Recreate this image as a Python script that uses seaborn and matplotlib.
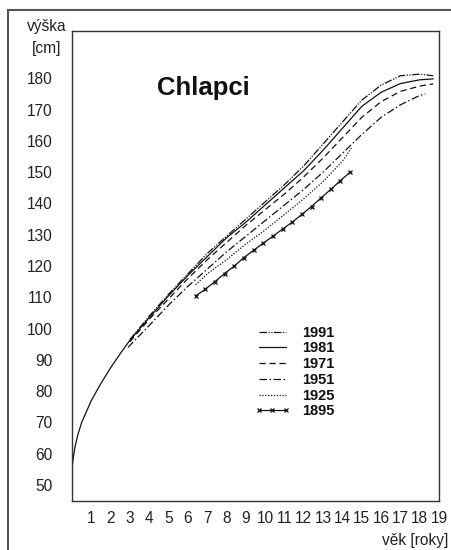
import matplotlib
matplotlib.use("Agg")
import matplotlib.pyplot as plt
import seaborn as sns
import pandas as pd
from matplotlib.patches import Rectangle

sns.set_style("white")
plt.rcParams['font.family'] = ['Liberation Sans', 'DejaVu Sans']

# ---- data (age in years, height in cm) ----
age_1991 = [3, 4, 5, 6, 7, 8, 9, 10, 11, 12, 13, 14, 15, 16, 17, 18, 18.7]
h_1991 = [96.5, 104, 111, 117.5, 124, 129.5, 135, 140.5, 146, 152, 159, 166, 173, 177.8, 180.8, 181.3, 180.8]

age_1981 = [0, 0.05, 0.15, 0.3, 0.5, 0.75, 1, 1.5, 2, 2.5, 3, 4, 5, 6, 7, 8, 9, 10, 11, 12, 13, 14, 15, 16, 17, 18, 18.7]
h_1981 = [55, 58, 62, 66, 70, 73.5, 77, 82.5, 87.5, 92, 96.3, 103.5, 110.5, 117, 123, 129, 134, 139.5, 145, 150.5, 157, 164, 171, 175.5, 178.3, 179.5, 179.8]

age_1971 = [3, 4, 5, 6, 7, 8, 9, 10, 11, 12, 13, 14, 15, 16, 17, 18, 18.7]
h_1971 = [95.8, 103, 109.5, 116, 122, 127.5, 133, 138, 143, 148.5, 154.5, 161, 167.5, 172.5, 175.8, 177.5, 178.2]

age_1951 = [2.9, 4, 5, 6, 7, 8, 9, 10, 11, 12, 13, 14, 15, 16, 17, 18, 18.3]
h_1951 = [94, 101, 107.5, 113.5, 119, 124.5, 129.5, 134.5, 139.5, 144.5, 150, 156, 162, 167.5, 171.5, 174.5, 175]

age_1925 = [6.4, 7, 8, 9, 10, 11, 12, 13, 14, 14.5]
h_1925 = [114, 117.5, 122, 127, 131.5, 136.5, 141.5, 147, 153.5, 158]

age_1895 = [6.4, 6.9, 7.4, 7.9, 8.4, 8.9, 9.4, 9.9, 10.4, 10.9, 11.4, 11.9, 12.4, 12.9, 13.4, 13.9, 14.4]
h_1895 = [110.4, 112.6, 115, 117.6, 120, 122.7, 125, 127.3, 129.5, 131.8, 134, 136.5, 139, 141.8, 144.5, 147.3, 150]

years = ["1991", "1981", "1971", "1951", "1925", "1895"]
x_ticks = list(range(1, 20))
y_ticks = list(range(50, 190, 10))

series = {
    "1991": (age_1991, h_1991, (0, (6, 1.2, 1, 1.2, 1, 1.2)), "None"),
    "1981": (age_1981, h_1981, "-", "None"),
    "1971": (age_1971, h_1971, (0, (5, 3)), "None"),
    "1951": (age_1951, h_1951, (0, (6, 2, 1.2, 2)), "None"),
    "1925": (age_1925, h_1925, (0, (1, 1.3)), "None"),
    "1895": (age_1895, h_1895, "-", "x"),
}

fig = plt.figure(figsize=(4.52, 5.5), dpi=100)
ax = fig.add_axes([72 / 452, 1 - 501 / 550, 367 / 452, 470 / 550])

handles = {}
for yr in years:
    a, h, ls, mk = series[yr]
    df = pd.DataFrame({"age": a, "height": h})
    sns.lineplot(data=df, x="age", y="height", ax=ax, color="#111111", linewidth=0.9,
                 sort=False, estimator=None)
    ln = ax.get_lines()[-1]
    ln.set_linestyle(ls)
    ln.set_marker(mk)
    ln.set_markersize(3.5)
    ln.set_markeredgewidth(0.9)
    ln.set_markeredgecolor("#111111")
    handles[yr] = ln

ax.set_xlim(0, 19)
ax.set_ylim(44.9, 195.1)
ax.set_xticks(x_ticks)
ax.set_yticks(y_ticks)
ax.set_xticklabels([str(t) for t in x_ticks], fontsize=11.2, color="#222222")
ax.set_yticklabels([str(t) for t in y_ticks], fontsize=11.2, color="#222222")
ax.tick_params(axis="both", direction="in", length=3, width=0.8, color="#333333")
ax.tick_params(axis="y", pad=14)
ax.tick_params(axis="x", pad=7)
ax.set_xlabel("")
ax.set_ylabel("")
for s in ax.spines.values():
    s.set_color("#333333")
    s.set_linewidth(1.0)

ax.text((203 - 72) / 367, (501 - 88) / 470, "Chlapci", transform=ax.transAxes, fontsize=18.5,
        fontweight="bold", ha="center", va="center", color="#111111")

fig.text(47 / 452, 1 - 26 / 550, "výška", fontsize=11.2, ha="center", va="center", color="#222222")
fig.text(47 / 452, 1 - 49 / 550, "[cm]", fontsize=11.2, ha="center", va="center", color="#222222")
fig.text(448 / 452, 1 - 540 / 550, "věk [roky]", fontsize=11.2, ha="right", va="center", color="#222222")

leg = ax.legend([handles[y] for y in years], years, loc="center left",
                bbox_to_anchor=(0.4986, 0.2745), frameon=False, borderpad=0,
                borderaxespad=0, handlelength=2.4, handletextpad=0.8, labelspacing=0.12,
                numpoints=3, prop={"size": 10.5, "weight": "bold"})
for t in leg.get_texts():
    t.set_color("#111111")

fig.add_artist(Rectangle((8 / 452, -1), 2, 2 - 10 / 550, transform=fig.transFigure,
                         fill=False, edgecolor="#555555", linewidth=1.5))

fig.savefig("out.png", dpi=100)
